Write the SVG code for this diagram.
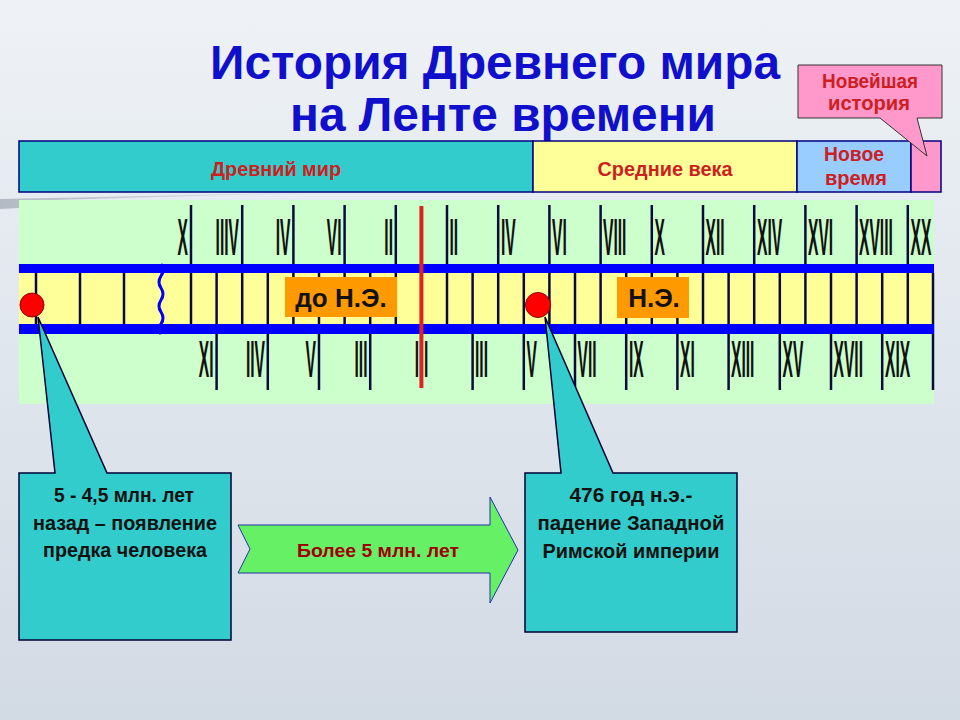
<svg xmlns="http://www.w3.org/2000/svg" width="960" height="720" viewBox="0 0 960 720">
<defs>
<linearGradient id="bg" x1="0" y1="0" x2="0" y2="1">
<stop offset="0" stop-color="#eef2f6"/>
<stop offset="1" stop-color="#d2dae4"/>
</linearGradient>
<linearGradient id="swoosh" x1="0" y1="0" x2="1" y2="0">
<stop offset="0" stop-color="#b2bac3"/>
<stop offset="1" stop-color="#e2e7ec"/>
</linearGradient>
</defs>
<style>
text{font-family:"Liberation Sans",Arial,sans-serif;font-weight:bold}
.title{font-size:48px;fill:#1010cc;text-anchor:middle}
.hdr{font-size:21px;fill:#cc1f1f;text-anchor:middle}
.seg{stroke:#000080;stroke-width:1.5}
.num{font-size:52px;fill:#111111}
.bc{text-anchor:end}
.ad{text-anchor:start}
.tick{stroke:#0a0a3c;stroke-width:2.5}
.band{fill:#0000ff}
.era{font-size:26px;fill:#111111;text-anchor:middle}
.dot{fill:#ff0000;stroke:#880000;stroke-width:1}
.call{fill:#33cccc;stroke:#000033;stroke-width:1.5}
.ctext{font-size:20px;fill:#111111;text-anchor:middle}
</style>
<rect x="0" y="0" width="960" height="720" fill="url(#bg)"/>
<polygon points="0,199 340,192 19,201 19,208 0,209" fill="url(#swoosh)"/>

<g id="title">
<text class="title" x="495" y="79" textLength="570" lengthAdjust="spacingAndGlyphs">История Древнего мира</text>
<text class="title" x="503" y="131" textLength="426" lengthAdjust="spacingAndGlyphs">на Ленте времени</text>
</g>

<g id="header">
<rect class="seg" x="19" y="141" width="514" height="51" fill="#33cccc"/>
<rect class="seg" x="533" y="141" width="264" height="51" fill="#ffff99"/>
<rect class="seg" x="797" y="141" width="114" height="51" fill="#99ccff"/>
<rect class="seg" x="911" y="141" width="30" height="51" fill="#ff99cc"/>
<text class="hdr" x="276" y="176" textLength="130" lengthAdjust="spacingAndGlyphs">Древний мир</text>
<text class="hdr" x="665" y="176" textLength="135" lengthAdjust="spacingAndGlyphs">Средние века</text>
<text class="hdr" x="854" y="161" textLength="60" lengthAdjust="spacingAndGlyphs">Новое</text>
<text class="hdr" x="856" y="185" textLength="62" lengthAdjust="spacingAndGlyphs">время</text>
</g>

<g id="callout-newest">
<path d="M798,65 H942 V118 H917 L927,156 L880,118 H798 Z" fill="#ff99cc" stroke="#333333" stroke-width="1"/>
<text class="hdr" x="870" y="88" textLength="96" lengthAdjust="spacingAndGlyphs">Новейшая</text>
<text class="hdr" x="869" y="110" textLength="82" lengthAdjust="spacingAndGlyphs">история</text>
</g>

<g id="timeline">
<rect x="19" y="200" width="915" height="204" fill="#ccffcc"/>
<rect x="19" y="273" width="915" height="51" fill="#ffff99"/>
<g id="ticks">
<line class="tick" x1="36" y1="273" x2="36" y2="324"/>
<line class="tick" x1="80" y1="273" x2="80" y2="324"/>
<line class="tick" x1="124" y1="273" x2="124" y2="324"/>
<line class="tick" x1="191" y1="205" x2="191" y2="324"/>
<line class="tick" x1="216.6" y1="273" x2="216.6" y2="390"/>
<line class="tick" x1="242.2" y1="205" x2="242.2" y2="324"/>
<line class="tick" x1="267.8" y1="273" x2="267.8" y2="390"/>
<line class="tick" x1="293.4" y1="205" x2="293.4" y2="324"/>
<line class="tick" x1="319" y1="273" x2="319" y2="390"/>
<line class="tick" x1="344.6" y1="205" x2="344.6" y2="324"/>
<line class="tick" x1="370.2" y1="273" x2="370.2" y2="390"/>
<line class="tick" x1="395.8" y1="205" x2="395.8" y2="324"/>
<line class="tick" x1="447" y1="205" x2="447" y2="324"/>
<line class="tick" x1="472.6" y1="273" x2="472.6" y2="390"/>
<line class="tick" x1="498.2" y1="205" x2="498.2" y2="324"/>
<line class="tick" x1="523.8" y1="273" x2="523.8" y2="390"/>
<line class="tick" x1="549.4" y1="205" x2="549.4" y2="324"/>
<line class="tick" x1="575" y1="273" x2="575" y2="390"/>
<line class="tick" x1="600.6" y1="205" x2="600.6" y2="324"/>
<line class="tick" x1="626.2" y1="273" x2="626.2" y2="390"/>
<line class="tick" x1="651.8" y1="205" x2="651.8" y2="324"/>
<line class="tick" x1="677.4" y1="273" x2="677.4" y2="390"/>
<line class="tick" x1="703" y1="205" x2="703" y2="324"/>
<line class="tick" x1="728.6" y1="273" x2="728.6" y2="390"/>
<line class="tick" x1="754.2" y1="205" x2="754.2" y2="324"/>
<line class="tick" x1="779.8" y1="273" x2="779.8" y2="390"/>
<line class="tick" x1="805.4" y1="205" x2="805.4" y2="324"/>
<line class="tick" x1="831" y1="273" x2="831" y2="390"/>
<line class="tick" x1="856.6" y1="205" x2="856.6" y2="324"/>
<line class="tick" x1="882.2" y1="273" x2="882.2" y2="390"/>
<line class="tick" x1="907.8" y1="205" x2="907.8" y2="324"/>
<line class="tick" x1="933" y1="273" x2="933" y2="390"/>
</g>
<rect class="band" x="19" y="264" width="915" height="9"/>
<rect class="band" x="19" y="324" width="915" height="10"/>
<path d="M161,264 q4,6 0,12 q-4,6 0,12 q4,6 0,12 q-4,6 0,12 q4,6 0,12 q-4,5 0,10" fill="none" stroke="#0000ff" stroke-width="3"/>
<line x1="421.4" y1="206" x2="421.4" y2="388" stroke="#dd2222" stroke-width="4"/>
<g id="numerals-top">
<text class="num bc" transform="translate(188,255) scale(0.3,1)">X</text>
<text class="num bc" transform="translate(239,255) scale(0.3,1)">IIIV</text>
<text class="num bc" transform="translate(290.5,255) scale(0.3,1)">IV</text>
<text class="num bc" transform="translate(341.5,255) scale(0.3,1)">VI</text>
<text class="num bc" transform="translate(393,255) scale(0.3,1)">II</text>
<text class="num ad" transform="translate(449.5,255) scale(0.3,1)">II</text>
<text class="num ad" transform="translate(501,255) scale(0.3,1)">IV</text>
<text class="num ad" transform="translate(552,255) scale(0.3,1)">VI</text>
<text class="num ad" transform="translate(603,255) scale(0.3,1)">VIII</text>
<text class="num ad" transform="translate(654.5,255) scale(0.3,1)">X</text>
<text class="num ad" transform="translate(705.5,255) scale(0.3,1)">XII</text>
<text class="num ad" transform="translate(757,255) scale(0.3,1)">XIV</text>
<text class="num ad" transform="translate(808,255) scale(0.3,1)">XVI</text>
<text class="num ad" transform="translate(859,255) scale(0.3,1)">XVIII</text>
<text class="num ad" transform="translate(910.5,255) scale(0.3,1)">XX</text>
</g>
<g id="numerals-bottom">
<text class="num bc" transform="translate(213.5,377) scale(0.3,1)">XI</text>
<text class="num bc" transform="translate(265,377) scale(0.3,1)">IIV</text>
<text class="num bc" transform="translate(316,377) scale(0.3,1)">V</text>
<text class="num bc" transform="translate(367.5,377) scale(0.3,1)">III</text>
<text class="num bc" transform="translate(419,377) scale(0.3,1)">I</text>
<text class="num ad" transform="translate(424,377) scale(0.3,1)">I</text>
<text class="num ad" transform="translate(475,377) scale(0.3,1)">III</text>
<text class="num ad" transform="translate(526.5,377) scale(0.3,1)">V</text>
<text class="num ad" transform="translate(577.5,377) scale(0.3,1)">VII</text>
<text class="num ad" transform="translate(629,377) scale(0.3,1)">IX</text>
<text class="num ad" transform="translate(680,377) scale(0.3,1)">XI</text>
<text class="num ad" transform="translate(731,377) scale(0.3,1)">XIII</text>
<text class="num ad" transform="translate(782.5,377) scale(0.3,1)">XV</text>
<text class="num ad" transform="translate(833.5,377) scale(0.3,1)">XVII</text>
<text class="num ad" transform="translate(885,377) scale(0.3,1)">XIX</text>
</g>
<g id="label-bc">
<rect x="285" y="277" width="112" height="40" fill="#ff9900"/>
<text class="era" x="341" y="307">до Н.Э.</text>
</g>
<g id="label-ad">
<rect x="617" y="277" width="72" height="41" fill="#ff9900"/>
<text class="era" x="654" y="307">Н.Э.</text>
</g>
<circle class="dot" cx="32" cy="305" r="12"/>
<circle class="dot" cx="538" cy="305" r="12.5"/>
</g>

<g id="callout-human">
<path class="call" d="M19,473 H55 L38,317 L107,473 H231 V640 H19 Z"/>
<text class="ctext" x="124" y="502" textLength="140" lengthAdjust="spacingAndGlyphs">5 - 4,5 млн. лет</text>
<text class="ctext" x="125" y="530" textLength="184" lengthAdjust="spacingAndGlyphs">назад – появление</text>
<text class="ctext" x="125" y="557" textLength="164" lengthAdjust="spacingAndGlyphs">предка человека</text>
</g>

<g id="callout-rome">
<path class="call" d="M525,473 H561 L545,317 L613,473 H737 V632 H525 Z"/>
<text class="ctext" x="631" y="502" textLength="123" lengthAdjust="spacingAndGlyphs">476 год н.э.-</text>
<text class="ctext" x="631" y="530" textLength="187" lengthAdjust="spacingAndGlyphs">падение Западной</text>
<text class="ctext" x="631" y="558" textLength="177" lengthAdjust="spacingAndGlyphs">Римской империи</text>
</g>

<g id="connectors">
<polygon points="238,525 490,525 490,497 518,550 490,603 490,573 238,573 250,549" fill="#66f066" stroke="#2233aa" stroke-width="1"/>
<text x="378" y="557" font-size="19" fill="#a00000" text-anchor="middle" textLength="162" lengthAdjust="spacingAndGlyphs">Более 5 млн. лет</text>
</g>
</svg>
